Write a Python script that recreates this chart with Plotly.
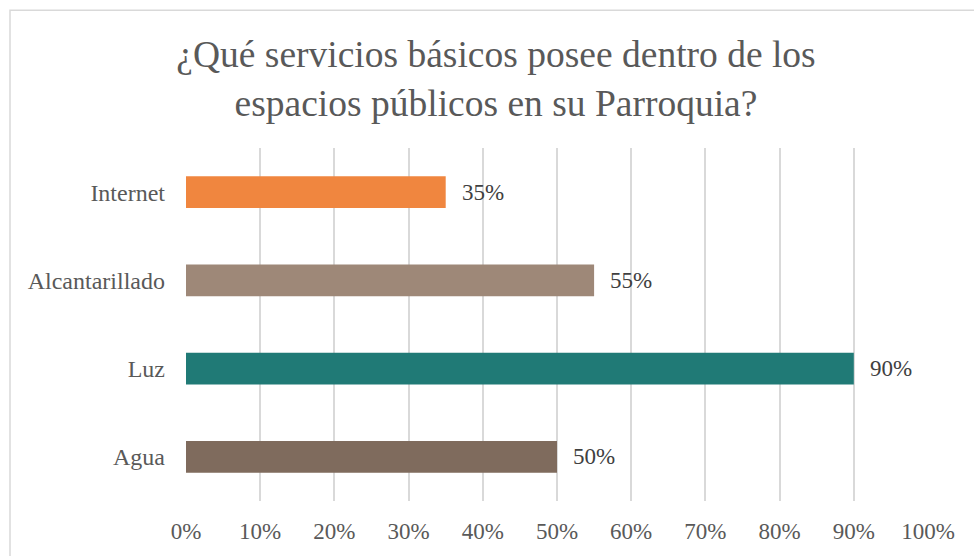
import plotly.graph_objects as go

# Data
categories = ["Agua", "Luz", "Alcantarillado", "Internet"]
values = [0.50, 0.90, 0.55, 0.35]
colors = ["#7F6B5D", "#207A76", "#9E8878", "#F0863F"]
tick_vals = [i / 10 for i in range(11)]
tick_text = [f"{i * 10}%" for i in range(11)]

title_text = "¿Qué servicios básicos posee dentro de los<br>espacios públicos en su Parroquia?"

font_family = "Times New Roman, Liberation Serif, serif"

fig = go.Figure()

fig.add_trace(
    go.Bar(
        x=values,
        y=categories,
        orientation="h",
        marker=dict(color=colors, line=dict(width=0)),
        hoverinfo="skip",
    )
)

# Data labels to the right of each bar
for cat, val in zip(categories, values):
    fig.add_annotation(
        x=val, y=cat, xref="x", yref="y",
        text=f"{round(val * 100)}%",
        showarrow=False,
        xanchor="left", yanchor="middle",
        xshift=14,
        font=dict(family=font_family, size=23, color="#404040"),
    )

# Light border around the chart area (runs off right and bottom)
fig.add_shape(
    type="rect", xref="paper", yref="paper",
    x0=(10 - 186) / 742, x1=(990 - 186) / 742,
    y0=(503 - 570) / 355, y1=(503 - 9.5) / 355,
    line=dict(color="#D9D9D9", width=1.5),
    fillcolor="rgba(0,0,0,0)",
    layer="below",
)

fig.update_layout(
    width=974,
    height=556,
    paper_bgcolor="white",
    plot_bgcolor="white",
    font=dict(family=font_family),
    margin=dict(l=186, r=46, t=148, b=53),
    bargap=0.64,
    showlegend=False,
    title=dict(
        text=title_text,
        x=496 / 974,
        xanchor="center",
        y=1 - 67 / 556,
        yanchor="middle",
        font=dict(family=font_family, size=37.5, color="#595959"),
    ),
    xaxis=dict(
        range=[0, 1],
        tickvals=tick_vals,
        ticktext=tick_text,
        showgrid=True,
        gridcolor="#D9D9D9",
        gridwidth=1.5,
        zeroline=False,
        showline=False,
        ticks="",
        ticklabelstandoff=14,
        tickfont=dict(family=font_family, size=23, color="#595959"),
        fixedrange=True,
    ),
    yaxis=dict(
        showgrid=False,
        zeroline=False,
        showline=False,
        ticks="",
        ticklabelstandoff=20,
        tickfont=dict(family=font_family, size=24, color="#595959"),
        fixedrange=True,
    ),
)

# remove the default body margin so the figure sits at the window corner
fig.write_html(
    "out.html",
    config={"displayModeBar": False},
    post_script="document.body.style.margin='0';",
)
